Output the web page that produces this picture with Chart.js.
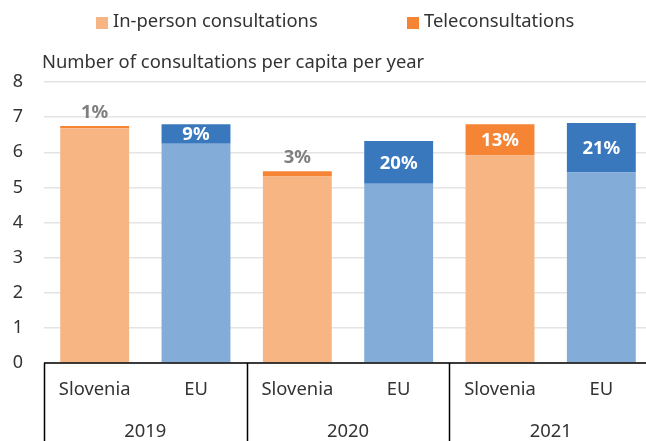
<!DOCTYPE html>
<html>
<head>
<meta charset="utf-8">
<script src="https://cdn.jsdelivr.net/npm/chart.js@4/dist/chart.umd.min.js"></script>
<style>
  html, body { margin: 0; padding: 0; background: #fff; overflow: hidden; }
  #wrap { width: 652px; height: 441px; }
</style>
</head>
<body>
<div id="wrap"><canvas id="myChart"></canvas></div>
<script>
// data
var categories = ['Slovenia', 'EU', 'Slovenia', 'EU', 'Slovenia', 'EU'];
var years = ['2019', '2020', '2021'];
var inPerson = [6.68, 6.24, 5.31, 5.10, 5.91, 5.42];
var tele = [0.07, 0.56, 0.15, 1.22, 0.89, 1.41];
var teleShare = ['1%', '9%', '3%', '20%', '13%', '21%'];
var seriesNames = ['In-person consultations', 'Teleconsultations'];
var axisTitle = 'Number of consultations per capita per year';

var lightColors = ['#F7B583', '#83ACD9', '#F7B583', '#83ACD9', '#F7B583', '#83ACD9'];
var darkColors = ['#F58435', '#3A78BD', '#F58435', '#3A78BD', '#F58435', '#3A78BD'];
var FONT = "'Noto Sans', sans-serif";

var decorations = {
    id: 'decorations',
    afterDraw: function (chart) {
        var ctx = chart.ctx;
        var area = chart.chartArea;
        var x = chart.scales.x;
        ctx.save();

        // legend
        ctx.font = '18.4px ' + FONT;
        ctx.textBaseline = 'middle';
        ctx.fillStyle = lightColors[0];
        ctx.fillRect(96, 17, 12, 12);
        ctx.fillStyle = darkColors[0];
        ctx.fillRect(407, 17, 12, 12);
        ctx.fillStyle = '#333';
        ctx.textAlign = 'left';
        ctx.fillText(seriesNames[0], 113, 22);
        ctx.fillText(seriesNames[1], 424, 22);

        // axis title
        ctx.fillText(axisTitle, 42, 63);

        // axis line and group separators
        ctx.strokeStyle = '#000';
        ctx.lineWidth = 1.5;
        ctx.beginPath();
        ctx.moveTo(area.left, area.bottom);
        ctx.lineTo(area.right, area.bottom);
        var step = (area.right - area.left) / years.length;
        for (var g = 0; g <= years.length; g++) {
            var gx = Math.round(area.left + g * step) + 0.5;
            ctx.moveTo(gx, area.bottom);
            ctx.lineTo(gx, chart.height);
        }
        ctx.stroke();

        // year labels
        ctx.textAlign = 'center';
        for (var i = 0; i < years.length; i++) {
            var cx = (x.getPixelForValue(i * 2) + x.getPixelForValue(i * 2 + 1)) / 2;
            ctx.fillText(years[i], cx, 432);
        }

        // share labels
        ctx.font = 'bold 18.5px ' + FONT;
        var meta = chart.getDatasetMeta(1);
        meta.data.forEach(function (bar, j) {
            var h = bar.base - bar.y;
            if (h < 12) {
                ctx.fillStyle = '#7F7F7F';
                ctx.fillText(teleShare[j], bar.x, bar.y - 13);
            } else {
                ctx.fillStyle = '#fff';
                ctx.fillText(teleShare[j], bar.x, (bar.y + bar.base) / 2 + 1);
            }
        });
        ctx.restore();
    }
};

var ctx = document.getElementById('myChart').getContext('2d');
var chart = new Chart(ctx, {
    type: 'bar',
    data: {
        labels: categories,
        datasets: [{
            label: seriesNames[0],
            data: inPerson,
            backgroundColor: lightColors,
            barPercentage: 0.68,
            categoryPercentage: 1.0
        }, {
            label: seriesNames[1],
            data: tele,
            backgroundColor: darkColors,
            barPercentage: 0.68,
            categoryPercentage: 1.0
        }]
    },
    options: {
        responsive: true,
        maintainAspectRatio: false,
        animation: false,
        layout: { padding: { top: 82, right: 0, left: 0, bottom: 0 } },
        plugins: {
            legend: { display: false },
            tooltip: { enabled: false }
        },
        scales: {
            x: {
                stacked: true,
                afterFit: function (s) { s.height = 78; },
                grid: { display: false, drawTicks: false },
                border: { display: false },
                ticks: { color: '#333', font: { family: FONT, size: 18.4 }, padding: 16, maxRotation: 0 }
            },
            y: {
                stacked: true,
                min: 0,
                max: 8,
                afterFit: function (s) { s.width = 44; },
                grid: { color: '#E4E4E4', lineWidth: 1.5, drawTicks: false },
                border: { display: false },
                ticks: { stepSize: 1, color: '#333', font: { family: FONT, size: 18 }, padding: 21 }
            }
        }
    },
    plugins: [decorations]
});
</script>
</body>
</html>
